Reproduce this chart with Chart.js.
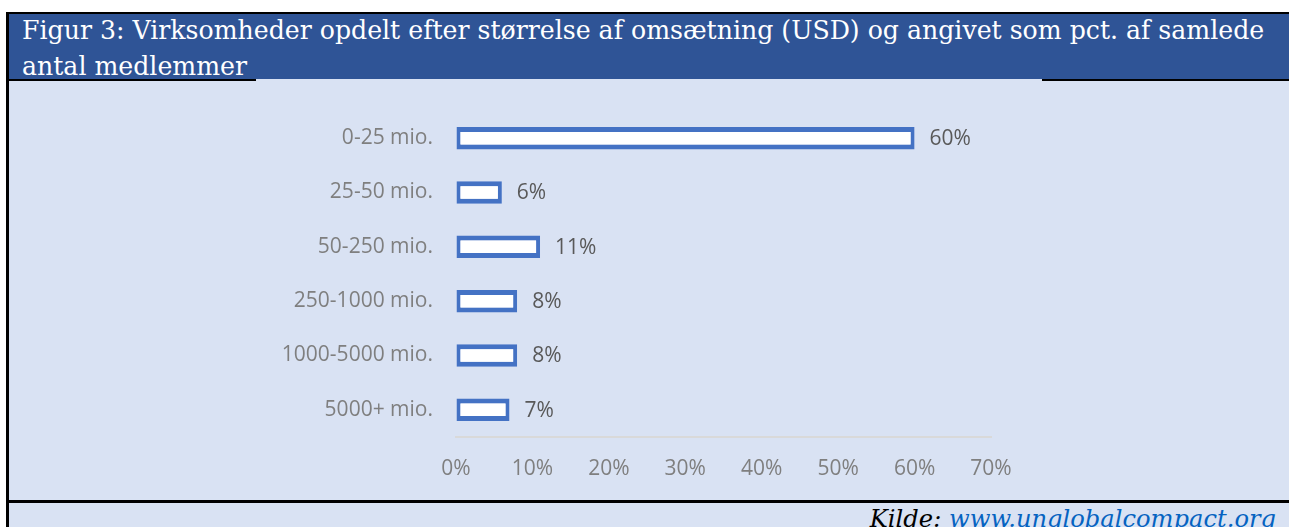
<!DOCTYPE html>
<html><head><meta charset="utf-8">
<script src="https://cdn.jsdelivr.net/npm/chart.js@4"></script>
<style>
html,body{margin:0;padding:0;background:#fff;width:1289px;height:527px;overflow:hidden;position:relative;}
#frame{position:absolute;left:6px;top:12px;width:1283px;height:515px;background:#D9E2F3;border-left:3px solid #000;border-top:2px solid #000;box-sizing:border-box;}
#header{position:absolute;left:9px;top:14px;width:1280px;height:65px;background:#2F5496;}
#title{position:absolute;left:22px;top:13px;color:#fff;font-family:"DejaVu Serif",serif;font-size:25.2px;line-height:36px;white-space:nowrap;}
.blk{position:absolute;background:#000;height:2px;top:79px;}
#bot{position:absolute;left:6px;top:500px;width:1283px;height:3px;background:#000;}
#kilde{position:absolute;right:13px;top:504px;font-family:"DejaVu Serif",serif;font-style:italic;font-size:24.2px;line-height:30px;color:#000;white-space:nowrap;}
#kilde span{color:#0563C1;text-decoration:underline;}
#wrap{position:absolute;left:0;top:81px;width:1289px;height:419px;}
</style></head>
<body>
<div id="frame"></div>
<div id="header"></div>
<div id="title">Figur 3: Virksomheder opdelt efter størrelse af omsætning (USD) og angivet som pct. af samlede<br>antal medlemmer</div>
<div class="blk" style="left:6px;width:250px"></div>
<div class="blk" style="left:1042px;width:247px"></div>
<div id="bot"></div>
<div id="kilde">Kilde: <span>www.unglobalcompact.org</span></div>
<div id="wrap"><canvas id="c" width="1289" height="419"></canvas></div>
<script>
const categories = ["0-25 mio.", "25-50 mio.", "50-250 mio.", "250-1000 mio.", "1000-5000 mio.", "5000+ mio."];
const shares = [60, 6, 11, 8, 8, 7];
const xTicksMin = 0, xTicksMax = 70, xTicksStep = 10;

const FONT = "'Open Sans', sans-serif";

const valueLabels = {
  id: 'valueLabels',
  afterDatasetsDraw(chart) {
    const ctx = chart.ctx;
    const meta = chart.getDatasetMeta(0);
    ctx.save();
    ctx.font = "21px " + FONT;
    ctx.fillStyle = '#595959';
    ctx.textAlign = 'left';
    ctx.textBaseline = 'middle';
    meta.data.forEach((bar, i) => {
      ctx.fillText(shares[i] + '%', bar.x + 15, bar.y + 1);
    });
    ctx.restore();
  }
};

new Chart(document.getElementById('c'), {
  type: 'bar',
  data: {
    labels: categories,
    datasets: [{
      data: shares,
      backgroundColor: '#FFFFFF',
      borderColor: '#4472C4',
      borderWidth: { top: 5, bottom: 5, left: 4, right: 4 },
      borderSkipped: false,
      categoryPercentage: 1,
      barPercentage: 0.415
    }]
  },
  options: {
    indexAxis: 'y',
    responsive: false,
    animation: false,
    events: [],
    layout: { padding: { top: 30, right: 298, left: 0, bottom: 0 } },
    plugins: { legend: { display: false }, tooltip: { enabled: false } },
    scales: {
      x: {
        min: xTicksMin, max: xTicksMax,
        afterFit(s) { s.height = 63; },
        ticks: { stepSize: xTicksStep, callback: v => v + '%', color: '#7F7F7F', font: { family: FONT, size: 21 }, padding: 19, maxRotation: 0 },
        grid: { drawOnChartArea: false, drawTicks: false },
        border: { display: true, color: '#D9D9D9', width: 2 }
      },
      y: {
        afterFit(s) { s.width = 456; s.paddingTop = 0; s.paddingBottom = 0; },
        ticks: { color: '#7F7F7F', font: { family: FONT, size: 21 }, padding: 23 },
        grid: { display: false, drawTicks: false },
        border: { display: false }
      }
    }
  },
  plugins: [valueLabels]
});
</script>
</body></html>
